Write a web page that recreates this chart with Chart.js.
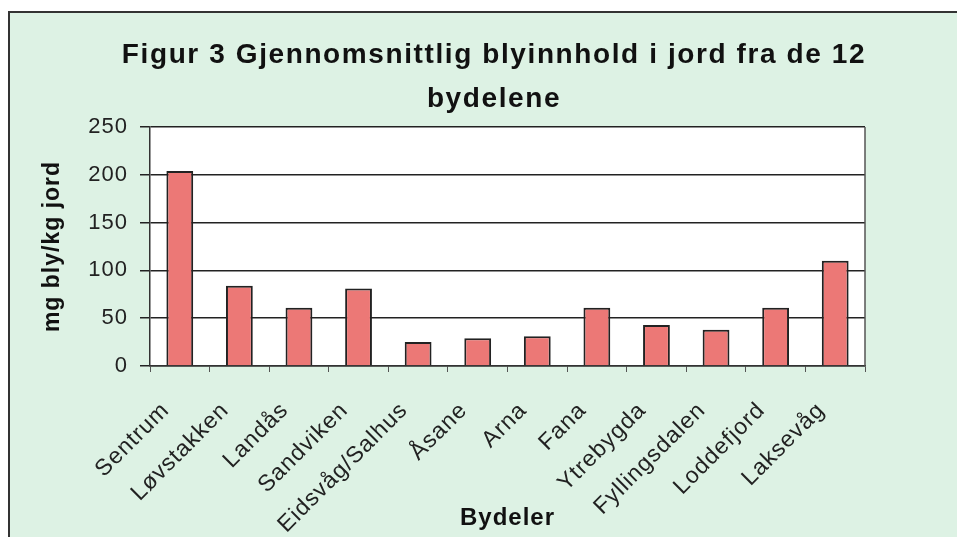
<!DOCTYPE html>
<html>
<head>
<meta charset="utf-8">
<script src="https://cdn.jsdelivr.net/npm/chart.js@4/dist/chart.umd.min.js"></script>
<style>
  html,body{margin:0;padding:0;background:#fff;overflow:hidden;}
  #frame{position:absolute;left:8px;top:11px;width:960px;height:540px;background:#ddf2e4;border:2px solid #333;}
  #c{position:absolute;left:0;top:0;}
</style>
</head>
<body>
<div id="frame"></div>
<canvas id="c" width="957" height="537"></canvas>
<script>
const titleLines = ['Figur 3 Gjennomsnittlig blyinnhold i jord fra de 12', 'bydelene'];
const bydeler = ['Sentrum','Løvstakken','Landås','Sandviken','Eidsvåg/Salhus','Åsane','Arna','Fana','Ytrebygda','Fyllingsdalen','Loddefjord','Laksevåg'];
const blyVerdier = [204, 84, 61, 81, 25, 29, 31, 61, 43, 38, 61, 110];
const yTicks = [0, 50, 100, 150, 200, 250];

const fontFam = '"Liberation Sans", Arial, sans-serif';

// white plot area, right edge of the plot, and the title drawn by hand so it can sit off-centre
const plotBox = {
  id:'plotBox',
  beforeDraw(chart){
    const a = chart.chartArea, ctx = chart.ctx;
    ctx.letterSpacing = '1px';
    ctx.save(); ctx.fillStyle = '#fff'; ctx.fillRect(a.left, a.top, a.right-a.left, a.bottom-a.top); ctx.restore();
  },
  afterDraw(chart){
    const a = chart.chartArea, ctx = chart.ctx;
    ctx.save();
    ctx.strokeStyle = '#555'; ctx.lineWidth = 1.5;
    ctx.beginPath(); ctx.moveTo(a.right, a.top); ctx.lineTo(a.right, a.bottom); ctx.stroke();
    ctx.fillStyle = '#111'; ctx.font = 'bold 28px ' + fontFam;
    ctx.letterSpacing = '1.6px';
    ctx.textAlign = 'center'; ctx.textBaseline = 'alphabetic';
    ctx.fillText(titleLines[0], 494, 63);
    ctx.fillText(titleLines[1], 494, 107);
    ctx.restore();
  }
};

new Chart(document.getElementById('c'), {
  type:'bar',
  data:{labels:bydeler, datasets:[{data:blyVerdier, backgroundColor:'#ec7876', borderColor:'#222', borderWidth:2, borderSkipped:'bottom', barPercentage:0.45, categoryPercentage:1}]},
  options:{
    responsive:false, animation:false,
    layout:{padding:{left:35, top:127, right:92, bottom:0}},
    plugins:{legend:{display:false}, tooltip:{enabled:false}, title:{display:false}},
    scales:{
      x:{
        grid:{offset:true, drawOnChartArea:false, drawTicks:true, tickLength:6, color:'#555', lineWidth:1},
        border:{display:true, color:'#333', width:1.5},
        ticks:{color:'#222', font:{family:fontFam, size:23}, minRotation:45, maxRotation:45, autoSkip:false, padding:25, labelOffset:-14},
        title:{display:true, text:'Bydeler', color:'#111', font:{family:fontFam, size:24, weight:'bold'}, padding:{top:0,bottom:4}},
        afterFit(s){ s.height = 171; }
      },
      y:{
        min:0, max:250,
        afterBuildTicks(s){ s.ticks = yTicks.map(v=>({value:v})); },
        grid:{color:'#222', lineWidth:1.5, tickLength:10, drawTicks:true},
        border:{display:true, color:'#333', width:1.5},
        ticks:{color:'#222', font:{family:fontFam, size:22}, padding:12},
        title:{display:true, text:'mg bly/kg jord', color:'#111', font:{family:fontFam, size:23, weight:'bold'}, padding:{top:4,bottom:0}},
        afterFit(s){ s.width = 115; }
      }
    }
  },
  plugins:[plotBox]
});
</script>
</body>
</html>
